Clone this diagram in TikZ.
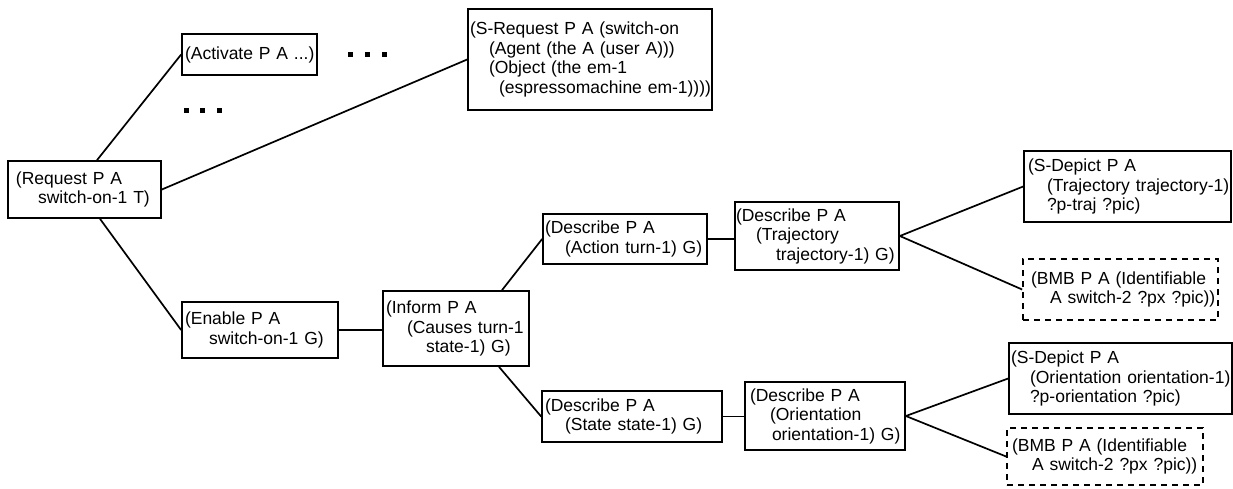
\documentclass[tikz,border=0pt]{standalone}
\usepackage{fontspec}
\setmainfont{Liberation Sans}
\usetikzlibrary{calc}
\newcommand\bxl[2]{\hspace*{#1pt}\mbox{#2}}
\begin{document}
\begin{tikzpicture}[x=1pt,y=-1pt,
  bx/.style={draw, line width=1.7pt, inner xsep=0pt, inner ysep=0pt, align=left,
    font=\fontsize{17.5}{19.5}\selectfont, anchor=center},
  dbx/.style={bx, dash pattern=on 6pt off 5pt},
  cn/.style={line width=1.7pt},
  dotsq/.style={fill=black}]
\useasboundingbox (0,0) rectangle (1233,488);

\node[bx, minimum width=153pt, minimum height=57pt, text width=153pt] (req) at (84.5,189.5)
  {\bxl{8}{(Request P A}\\\bxl{30}{switch-on-1 T)}};
\node[bx, minimum width=135pt, minimum height=41pt, text width=135pt] (act) at (249.5,54.5)
  {\bxl{3}{(Activate P A ...)}};
\node[bx, minimum width=244pt, minimum height=101pt, text width=244pt] (sreq) at (590,59.5)
  {\bxl{2}{(S-Request P A (switch-on}\\\bxl{21}{(Agent (the A (user A)))}\\\bxl{21}{(Object (the em-1}\\\bxl{31}{(espressomachine em-1))))}};
\node[bx, minimum width=156pt, minimum height=56pt, text width=156pt] (en) at (260,330)
  {\bxl{3}{(Enable P A}\\\bxl{27}{switch-on-1 G)}};
\node[bx, minimum width=146pt, minimum height=75pt, text width=146pt] (inf) at (456,328.5)
  {\bxl{3}{(Inform P A}\\\bxl{24}{(Causes turn-1}\\\bxl{43}{state-1) G)}};
\node[bx, minimum width=164pt, minimum height=50pt, text width=164pt] (da) at (625,239)
  {\bxl{2}{(Describe P A}\\\bxl{22}{(Action turn-1) G)}};
\node[bx, minimum width=164pt, minimum height=68pt, text width=164pt] (dt) at (817,236)
  {\bxl{1}{(Describe P A}\\\bxl{21}{(Trajectory}\\\bxl{41}{trajectory-1) G)}};
\node[bx, minimum width=207pt, minimum height=71pt, text width=207pt] (sd1) at (1127.5,186.5)
  {\bxl{4}{(S-Depict P A}\\\bxl{23}{(Trajectory trajectory-1)}\\\bxl{23}{?p-traj ?pic)}};
\node[dbx, minimum width=195pt, minimum height=61pt, text width=195pt] (bmb1) at (1120.5,289.5)
  {\bxl{8}{(BMB P A (Identifiable}\\\bxl{27}{A switch-2 ?px ?pic))}};
\node[bx, minimum width=180pt, minimum height=51pt, text width=180pt] (ds) at (632,416.5)
  {\bxl{3}{(Describe P A}\\\bxl{23}{(State state-1) G)}};
\node[bx, minimum width=160pt, minimum height=68pt, text width=160pt] (do) at (825,416)
  {\bxl{5}{(Describe P A}\\\bxl{25}{(Orientation}\\\bxl{27}{orientation-1) G)}};
\node[bx, minimum width=223pt, minimum height=71pt, text width=223pt] (sd2) at (1120.5,378.5)
  {\bxl{2}{(S-Depict P A}\\\bxl{21}{(Orientation orientation-1)}\\\bxl{21}{?p-orientation ?pic)}};
\node[dbx, minimum width=196pt, minimum height=57pt, text width=196pt] (bmb2) at (1105,456.5)
  {\bxl{5}{(BMB P A (Identifiable}\\\bxl{25}{A switch-2 ?px ?pic))}};

% connectors
\draw[cn] ([xshift=12.5pt]req.north) -- (act.west);
\draw[cn] (req.east) -- (sreq.west);
\draw[cn] ([xshift=15.5pt]req.south) -- (en.west);
\draw[cn] (en.east) -- (en.east -| inf.west);
\draw[cn] ([xshift=46pt]inf.north) -- (da.west);
\draw[cn] ([xshift=43pt]inf.south) -- (ds.west);
\draw[cn] (da.east) -- (da.east -| dt.west);
\draw[cn] (dt.east) -- (sd1.west);
\draw[cn] (dt.east) -- (bmb1.west);
\draw[cn] (ds.east) -- (ds.east -| do.west);
\draw[cn] (do.east) -- (sd2.west);
\draw[cn] (do.east) -- (bmb2.west);

% ellipsis marks
\foreach \x in {348,365,382} \fill[dotsq] (\x,52) rectangle +(5,5);
\foreach \x in {184,200,217} \fill[dotsq] (\x,108) rectangle +(5,5);
\end{tikzpicture}
\end{document}
